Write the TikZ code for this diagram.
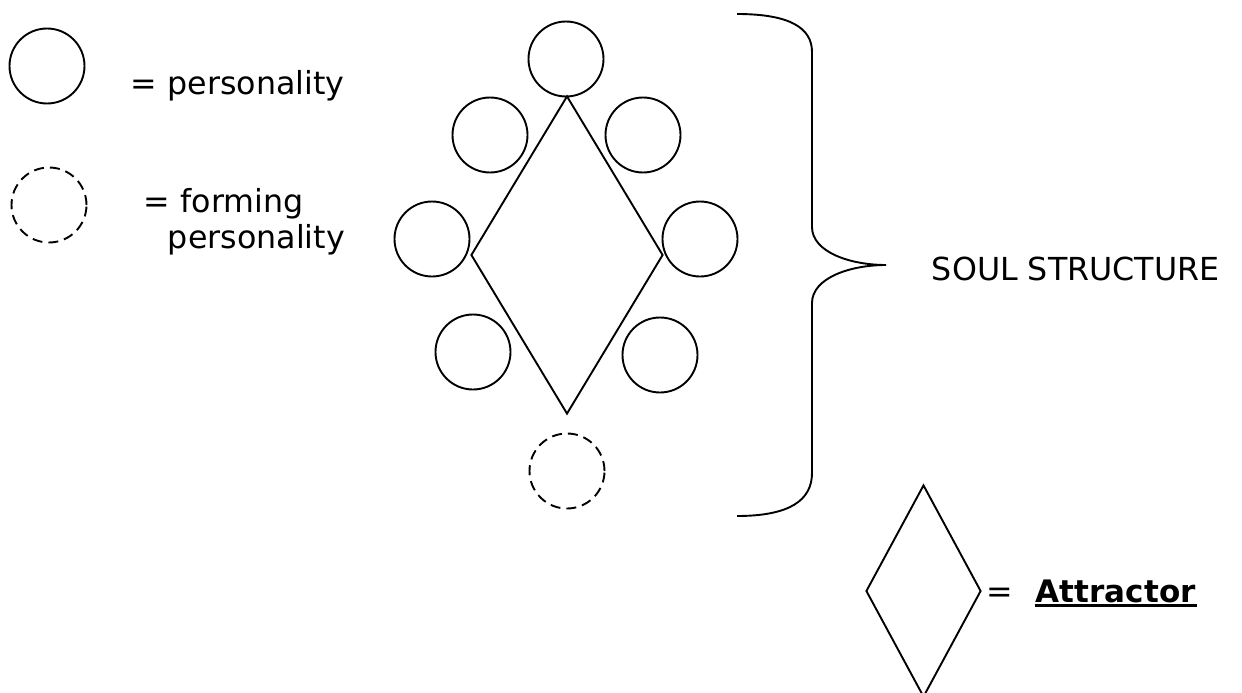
\documentclass[tikz,border=0pt]{standalone}
\usepackage{fontspec}
\setmainfont{DejaVu Sans}
\usetikzlibrary{shapes.geometric}

\begin{document}
\begin{tikzpicture}[x=1pt,y=-1pt,line width=1.9pt,
    person node/.style={circle,draw,inner sep=0pt,minimum size=75pt},
    forming node/.style={person node,dash pattern=on 10pt off 6pt},
    attractor node/.style={diamond,draw,inner sep=0pt},
    label node/.style={inner sep=0pt,anchor=base west,font=\fontsize{31.7}{36}\selectfont}]
        \useasboundingbox (0,0) rectangle (1242,693);
        % legend
        \node[person node] (legp) at (47,66) {};
        \node[label node] (legptext) at (130,94) {= personality};
        \node[forming node] (legf) at (49,205) {};
        \node[label node] (legftext) at (143,212) {= forming};
        \node[label node] (legftext2) at (167,248) {personality};
        % soul structure
        \node[attractor node,minimum width=192pt,minimum height=318pt] (attr) at (567,255) {};
        \node[person node] (1) at (566,59) {};
        \node[person node] (2) at (490,135) {};
        \node[person node] (3) at (643,135) {};
        \node[person node] (4) at (432,239) {};
        \node[person node] (5) at (700,239) {};
        \node[person node] (6) at (473,352) {};
        \node[person node] (7) at (660,355) {};
        \node[forming node] (8) at (567,471) {};
        % brace
        \coordinate (bracetop) at (737,14);
        \coordinate (bracetip) at (886,265);
        \coordinate (bracebot) at (737,516);
        \draw (bracetop) .. controls (790,14) and (812,28) .. (812,52) -- (812,227)
          .. controls (812,252) and (850,265) .. (bracetip)
          .. controls (850,265) and (812,278) .. (812,303) -- (812,473)
          .. controls (812,500) and (790,516) .. (bracebot);
        \node[label node] (soul) at (931,280) {SOUL STRUCTURE};
        % key
        \node[attractor node,minimum width=115pt,minimum height=212pt] (key) at (923.5,591) {};
        \node[label node] (eq) at (986,602) {=};
        \node[label node,font=\fontsize{31}{36}\selectfont\bfseries] (attrtext) at (1035,602) {Attractor};
        \draw[line width=3pt] ([yshift=-3.5pt]attrtext.base west) -- ([yshift=-3.5pt]attrtext.base east);
      \end{tikzpicture}
\end{document}
